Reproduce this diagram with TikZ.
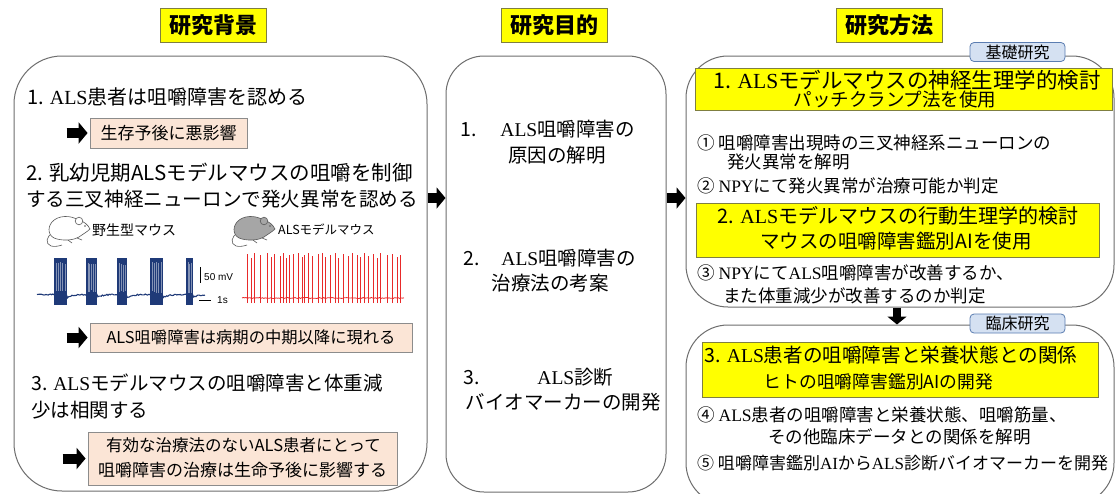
\documentclass[tikz,border=0pt]{standalone}
\usepackage{fontspec}
\setmainfont{Noto Sans CJK JP}
\newfontfamily\ser{Liberation Serif}
\newfontfamily\lsans{Liberation Sans}
\usetikzlibrary{arrows.meta,calc}

\definecolor{ttlyellow}{HTML}{FFFF00}
\definecolor{ttlborder}{HTML}{7F7F40}
\definecolor{boxgray}{HTML}{6E6E6E}
\definecolor{peach}{HTML}{FBE5D6}
\definecolor{peachborder}{HTML}{8C8C8C}
\definecolor{tagblue}{HTML}{D5E1F2}
\definecolor{tagborder}{HTML}{5B7DB1}
\definecolor{trblue}{HTML}{1F3A78}
\definecolor{trred}{HTML}{E82A2A}
\definecolor{mouseline}{HTML}{5A5A5A}
\definecolor{mousegray}{HTML}{A6A6A6}

\newcommand\myfs[2]{\fontsize{#1}{#2}\selectfont}

\begin{document}
\begin{tikzpicture}[x=1pt, y=-1pt,
  ttl/.style={draw=ttlborder, fill=ttlyellow, line width=0.9pt, minimum width=106pt,
    minimum height=34pt, inner sep=0pt, font=\myfs{22}{24}\bfseries},
  bigbox/.style={draw=boxgray, line width=1pt, inner sep=0pt},
  txt/.style={inner sep=0pt, anchor=base west},
  ctxt/.style={inner sep=0pt, anchor=base},
  peachbox/.style={draw=peachborder, fill=peach, line width=0.8pt, inner sep=0pt, align=center},
  ybox/.style={draw=ttlborder, fill=ttlyellow, line width=0.8pt, inner sep=0pt},
  tag/.style={draw=tagborder, fill=tagblue, line width=0.8pt, rounded corners=4pt,
    minimum width=95pt, minimum height=19pt, inner sep=0pt, font=\myfs{16}{18}},
  fatarrow/.style={line width=10pt, -{Triangle[length=9pt,width=21pt]}},
  downarrow/.style={line width=8pt, -{Triangle[length=8pt,width=19pt]}},
  mouseln/.style={draw=mouseline, line width=0.6pt},
  bluetr/.style={draw=trblue, line width=1.1pt},
  redtr/.style={draw=trred, line width=0.8pt},
  pics/mouse/.style={code={
    % tail
    \draw[mouseln] (6,18) .. controls (-1,21) and (-2,29) .. (4,31) .. controls (8,32) and (12,31) .. (15,30);
    % body and head
    \draw[mouseln, fill=#1] (43,14) .. controls (41,10) and (37,6) .. (31,5)
      .. controls (24,0) and (11,0) .. (5,7)
      .. controls (0,13) and (1,22) .. (10,24)
      .. controls (18,26) and (27,25) .. (32,22)
      .. controls (36,19) and (40,17) .. (43,14) -- cycle;
    % ear
    \draw[mouseln, fill=#1] (32,6) circle (3.8pt);
    % eye
    \fill[mouseline] (38,11) circle (0.9pt);
    % paws
    \draw[mouseln] (21,25) -- (25,28) (30,23) -- (35,25);
  }}
]
\path[use as bounding box] (0,0) rectangle (1117,493);
\clip (0,0) rectangle (1117,493);
\fill[white] (0,0) rectangle (1117,493);

% ---- column headings
\node[ttl] (t1) at (213.5,25.5) {研究背景};
\node[ttl] (t2) at (554.5,25.5) {研究目的};
\node[ttl] (t3) at (889.5,25.5) {研究方法};

% ---- column frames
\node[bigbox, rounded corners=48pt, minimum width=413pt, minimum height=435pt] (bg) at (220.5,273.5) {};
\node[bigbox, rounded corners=38pt, minimum width=220pt, minimum height=436pt] (mid) at (556,274) {};
\node[bigbox, rounded corners=42pt, minimum width=428pt, minimum height=251pt] (rt) at (900,181.5) {};
\node[bigbox, rounded corners=42pt, minimum width=428pt, minimum height=180pt] (rb) at (900,415) {};

% ---- connectors between columns
\coordinate (ha) at (0,198);
\coordinate (va) at (897,0);
\draw[fatarrow] (bg.east |- ha) -- (mid.west |- ha);
\draw[fatarrow] (mid.east |- ha) -- (rt.west |- ha);
\draw[downarrow] (va |- rt.south) -- (va |- rb.north);

% ---- background column
\node[txt, font=\myfs{20}{24}] (l1) at (27,104.6) {1. {\ser ALS}患者は咀嚼障害を認める};
\node[peachbox, minimum width=157pt, minimum height=30pt, font=\myfs{17}{20}] (p1) at (168.5,133) {生存予後に悪影響};
\draw[fatarrow] ([xshift=-23pt]p1.west) -- ([xshift=-2pt]p1.west);

\node[txt, font=\myfs{20.5}{24}] (l2a) at (26,180.6) {2. 乳幼児期ALSモデルマウスの咀嚼を制御};
\node[txt, font=\myfs{19.6}{24}] (l2b) at (26,206.6) {する三叉神経ニューロンで発火異常を認める};

% mice
\pic at (47,215) {mouse=white};
\pic at (232,215) {mouse=mousegray};
\node[txt, font=\myfs{14}{16}] (wt) at (92,235.3) {野生型マウス};
\node[txt, font=\myfs{12.5}{16}] (als) at (278,234.8) {ALSモデルマウス};

% wild-type recording: baseline with after-burst dips, and bursts
\pgfmathsetseed{11}
\pgfmathdeclarefunction{dip}{1}{%
  \pgfmathparse{3.2*((#1>67)*exp(-max(#1-67,0)/5) + (#1>97)*exp(-max(#1-97,0)/5)
   + (#1>127)*exp(-max(#1-127,0)/5) + (#1>163)*exp(-max(#1-163,0)/5)
   + (#1>193)*exp(-max(#1-193,0)/5))}}
\draw[bluetr] plot[domain=37:205, samples=150] (\x, {294.5+0.6*rand+dip(\x)});
\foreach \a/\b in {54/67, 86/97, 117/127, 150/163, 186/193} {
  \fill[trblue] (\a,258) rectangle (\b,305);
  \pgfmathsetmacro\n{int((\b-\a)/2.2)}
  \foreach \k in {1,...,\n} {
    \pgfmathsetmacro\xx{\a+\k*(\b-\a)/(\n+1)}
    \draw[trblue!55, line width=0.35pt] (\xx,{262+3*rnd}) -- (\xx,{290+3*rnd});
  }
}
% scale bars
\draw[black, line width=0.8pt] (200,267) -- (200,283);
\node[txt, font=\lsans\fontsize{10}{12}\selectfont] (mv) at (204,280.5) {50 mV};
\draw[black, line width=0.8pt] (199,300) -- (211,300);
\node[txt, font=\lsans\fontsize{10}{12}\selectfont] (sec) at (217,303.5) {1s};

% ALS model recording: irregular spikes
\pgfmathsetseed{5}
\draw[redtr] plot[domain=242:404, samples=120] (\x, {298+0.6*rand});
\foreach \x/\h in {247/254, 251/258, 254/253, 260/255, 267/253, 271/257, 274/254, 280/256,
  283/253, 286/258, 289/255, 293/254, 298/253, 302/257, 304/255, 308/253, 312/256, 318/254,
  322/253, 325/257, 330/255, 335/253, 338/258, 343/254, 348/256, 352/253, 357/255, 360/257,
  364/253, 368/256, 373/254, 377/258, 380/253, 387/255, 392/254, 397/257, 400/255} {
  \draw[redtr] (\x,303) -- (\x,\h);
}

\node[peachbox, minimum width=322pt, minimum height=29pt, font=\myfs{16.3}{20}] (p2) at (251,337.5) {ALS咀嚼障害は病期の中期以降に現れる};
\draw[fatarrow] ([xshift=-23pt]p2.west) -- ([xshift=-2pt]p2.west);

\node[txt, font=\myfs{19.5}{24}] (l3a) at (31,390.4) {3. {\ser ALS}モデルマウスの咀嚼障害と体重減};
\node[txt, font=\myfs{19.5}{24}] (l3b) at (31,417.4) {少は相関する};

\node[peachbox, minimum width=309pt, minimum height=53pt] (p3) at (242.5,458.5) {};
\node[ctxt, font=\myfs{16.5}{20}] (p3a) at (243.5,451.8) {有効な治療法のないALS患者にとって};
\node[ctxt, font=\myfs{17}{20}] (p3b) at (242.5,476.5) {咀嚼障害の治療は生命予後に影響する};
\draw[fatarrow] ([xshift=-25pt]p3.west) -- ([xshift=-2pt]p3.west);

% ---- aims column
\node[txt, font=\myfs{19.5}{24}] (m1a) at (460,136.4) {1.\hspace{24pt}{\ser ALS}咀嚼障害の};
\node[ctxt, font=\myfs{19.5}{24}] (m1b) at (557,162.4) {原因の解明};
\node[txt, font=\myfs{19.5}{24}] (m2a) at (463,265.4) {2.\hspace{22pt}{\ser ALS}咀嚼障害の};
\node[ctxt, font=\myfs{19.5}{24}] (m2b) at (550,290.4) {治療法の考案};
\node[txt, font=\myfs{19.5}{24}] (m3a) at (463,384.4) {3.\hspace{58pt}{\ser ALS}診断};
\node[ctxt, font=\myfs{19.5}{24}] (m3b) at (563,409.4) {バイオマーカーの開発};

% ---- methods column: basic research
\node[tag] (tb) at (1017.5,52) {基礎研究};
\node[ybox, minimum width=417pt, minimum height=42pt] (y1) at (903.5,89) {};
\node[ctxt, font=\myfs{21.5}{24}] (y1a) at (907,88.8) {1. {\ser ALS}モデルマウスの神経生理学的検討};
\node[ctxt, font=\myfs{18.5}{24}] (y1b) at (895,106.5) {パッチクランプ法を使用};
\node[txt, font=\myfs{17.5}{22}] (r1a) at (697,149.6) {① 咀嚼障害出現時の三叉神経系ニューロンの};
\node[txt, font=\myfs{17.5}{22}] (r1b) at (727,168.4) {発火異常を解明};
\node[txt, font=\myfs{17.5}{22}] (r2) at (697,192.4) {② {\ser NPY}にて発火異常が治療可能か判定};
\node[ybox, minimum width=403pt, minimum height=54pt] (y2) at (897.5,230) {};
\node[ctxt, font=\myfs{20}{24}] (y2a) at (898,223.6) {2. {\ser ALS}モデルマウスの行動生理学的検討};
\node[ctxt, font=\myfs{19.5}{24}] (y2b) at (896,248.4) {マウスの咀嚼障害鑑別AIを使用};
\node[txt, font=\myfs{17.5}{22}] (r3a) at (697,279.4) {③ {\ser NPY}にて{\ser ALS}咀嚼障害が改善するか、};
\node[txt, font=\myfs{17.5}{22}] (r3b) at (723,302.4) {また体重減少が改善するのか判定};

% ---- methods column: clinical research
\node[tag] (tc) at (1017.5,323.5) {臨床研究};
\node[ybox, minimum width=396pt, minimum height=55pt] (y3) at (900,369.5) {};
\node[ctxt, font=\myfs{19.6}{24}] (y3a) at (891,362.4) {3. {\ser ALS}患者の咀嚼障害と栄養状態との関係};
\node[ctxt, font=\myfs{17.8}{24}] (y3b) at (878.5,388.8) {ヒトの咀嚼障害鑑別AIの開発};
\node[txt, font=\myfs{17.5}{22}] (r4a) at (697,421.4) {④ {\ser ALS}患者の咀嚼障害と栄養状態、咀嚼筋量、};
\node[txt, font=\myfs{17.5}{22}] (r4b) at (768,443.4) {その他臨床データとの関係を解明};
\node[txt, font=\myfs{17}{22}] (r5) at (697,469.4) {⑤ 咀嚼障害鑑別{\ser AI}から{\ser ALS}診断バイオマーカーを開発};
\end{tikzpicture}
\end{document}
